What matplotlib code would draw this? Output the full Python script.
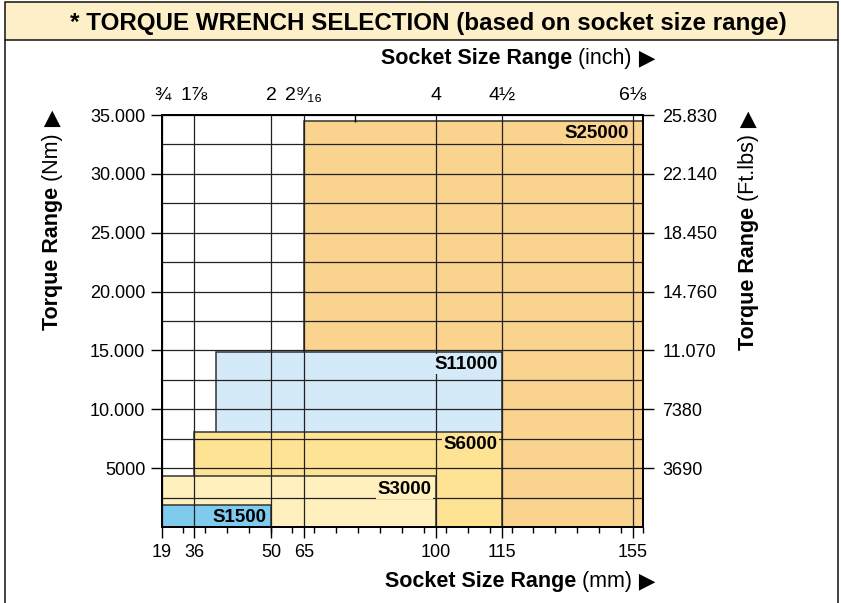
import numpy as np
import matplotlib
matplotlib.use("Agg")
from matplotlib import pyplot as plt
from matplotlib.patches import Rectangle
from matplotlib.lines import Line2D
from matplotlib.ticker import FixedLocator, MultipleLocator

plt.rcParams['font.family'] = ['Liberation Sans', 'DejaVu Sans']

# wrench models: socket range (mm) and max torque (Nm)
models = ["S1500", "S3000", "S6000", "S11000", "S25000"]
size_min = [19, 19, 36, 40, 65]
size_max = [50, 100, 115, 115, 158]
torque_max = [1900, 4300, 8100, 14900, 34500]
label_at = [50, 100, 115, 115, 155]
colors = ["#7ecbee", "#fff0be", "#ffe394", "#d5eaf8", "#fad38f"]

mm_ticks = [19, 36, 50, 65, 100, 115, 155]
inch_labels = ["¾", "1⅞", "2", "2⁹⁄₁₆", "4", "4½", "6⅛"]
nm_ticks = [5000, 10000, 15000, 20000, 25000, 30000, 35000]
nm_labels = ["5000", "10.000", "15.000", "20.000", "25.000", "30.000", "35.000"]
ftlb_labels = ["3690", "7380", "11.070", "14.760", "18.450", "22.140", "25.830"]

# the socket axis in the original is not linear -> piecewise mapping
knots_mm = [19, 36, 50, 65, 100, 115, 155, 158]
knots_pos = [162, 194, 271, 304, 436, 502, 633, 643]


def fwd(x):
    return np.interp(x, knots_mm, knots_pos)


def inv(p):
    return np.interp(p, knots_pos, knots_mm)


W, H = 841, 603
fig = plt.figure(figsize=(W / 100, H / 100), dpi=100)
ax = fig.add_axes([162 / W, 1 - 527 / H, (643 - 162) / W, (527 - 115) / H])
ax.set_xscale('function', functions=(fwd, inv))
ax.set_xlim(19, 158)
ax.set_ylim(0, 35000)

for i in reversed(range(len(models))):
    ax.bar(size_min[i], torque_max[i], width=size_max[i] - size_min[i], align='edge',
           color=colors[i], edgecolor='#333333', linewidth=1.1, zorder=1)
    ax.annotate(models[i], (label_at[i], torque_max[i]), xytext=(-3, -3),
                textcoords='offset points', ha='right', va='top',
                fontsize=13.5, fontweight='bold', zorder=4,
                bbox=dict(boxstyle='square,pad=0.08', fc=colors[i], ec='none'))

# grid
ax.xaxis.set_major_locator(FixedLocator(mm_ticks))
ax.xaxis.set_ticklabels([str(v) for v in mm_ticks])
ax.xaxis.set_minor_locator(FixedLocator(inv(np.linspace(161, 643, 23))))
ax.yaxis.set_major_locator(FixedLocator(nm_ticks))
ax.yaxis.set_ticklabels(nm_labels)
ax.yaxis.set_minor_locator(MultipleLocator(2500))
ax.grid(True, which='major', axis='x', color='#222222', linewidth=0.9, zorder=1.5)
ax.grid(True, which='both', axis='y', color='#222222', linewidth=0.9, zorder=1.5)
ax.tick_params(axis='x', which='major', length=8, width=1, labelsize=13, pad=4)
ax.tick_params(axis='x', which='minor', length=4, width=1)
ax.tick_params(axis='y', which='major', length=8, width=1, labelsize=13, pad=4)
ax.tick_params(axis='y', which='minor', length=0)
for sp in ax.spines.values():
    sp.set_linewidth(1.4)

# right axis (Ft.lbs)
axr = ax.twinx()
axr.set_ylim(0, 35000)
axr.yaxis.set_major_locator(FixedLocator(nm_ticks))
axr.yaxis.set_ticklabels(ftlb_labels)
axr.tick_params(axis='y', length=8, width=1, labelsize=13, pad=6)

# top axis (inch)
axt = ax.twiny()
axt.set_xscale('function', functions=(fwd, inv))
axt.set_xlim(19, 158)
axt.xaxis.set_major_locator(FixedLocator(mm_ticks))
axt.xaxis.set_ticklabels(inch_labels)
axt.xaxis.set_minor_locator(FixedLocator([78.5]))
axt.tick_params(axis='x', which='major', length=0, labelsize=14, pad=8)
axt.tick_params(axis='x', which='minor', length=5, width=1, direction='in')
for a in (axr, axt):
    for sp in a.spines.values():
        sp.set_linewidth(1.4)

# frame + title bar
fig.patches.append(Rectangle((5 / W, 1 - 40 / H), 833 / W, 38 / H, transform=fig.transFigure,
                             fc='#fdf0c8', ec='#222222', lw=1.2, zorder=0))
fig.lines.append(Line2D([5 / W, 5 / W], [0, 1 - 40 / H], transform=fig.transFigure, color='#222222', lw=1.2))
fig.lines.append(Line2D([838 / W, 838 / W], [0, 1 - 40 / H], transform=fig.transFigure, color='#222222', lw=1.2))
fig.text(428 / W, 1 - 30 / H, "* TORQUE WRENCH SELECTION (based on socket size range)",
         ha='center', va='baseline', fontsize=17.4, fontweight='bold')

renderer = fig.canvas.get_renderer()


def label_pieces(pieces, x, y, rotation=0, size=15.5):
    x, y = x / W, 1 - y / H
    for s, w, fam in pieces:
        t = fig.text(x, y, s, rotation=rotation, rotation_mode='anchor', fontsize=size,
                     fontweight=w, family=fam, ha='left', va='baseline')
        bb = t.get_window_extent(renderer).transformed(fig.transFigure.inverted())
        if rotation == 0:
            x = bb.x1
        else:
            y = bb.y1


sans = ['Liberation Sans', 'DejaVu Sans']
arrow = ['DejaVu Sans']
label_pieces([("Socket Size Range", 'bold', sans), (" (inch)", 'normal', sans), (" ▶", 'normal', arrow)], 381, 64)
label_pieces([("Socket Size Range", 'bold', sans), (" (mm)", 'normal', sans), (" ▶", 'normal', arrow)], 385, 587)
# text is turned 90 deg, so the right-pointing glyph shows as an up arrow
label_pieces([("Torque Range", 'bold', sans), (" (Nm)", 'normal', sans), (" ▶", 'normal', arrow)], 58, 330, rotation=90)
label_pieces([("Torque Range", 'bold', sans), (" (Ft.lbs)", 'normal', sans), (" ▶", 'normal', arrow)], 754, 350, rotation=90)

fig.savefig("out.png", dpi=100)
